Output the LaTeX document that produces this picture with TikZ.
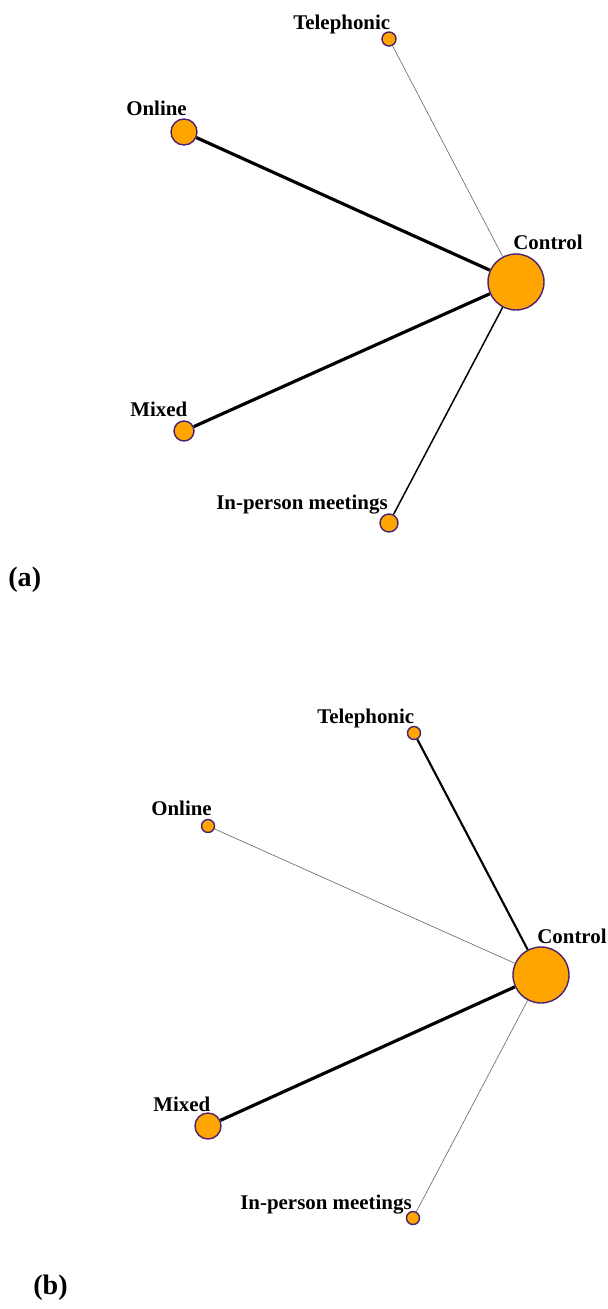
\documentclass[tikz,border=0pt]{standalone}
\usepackage{fontspec}
\setmainfont{Liberation Serif}
\usetikzlibrary{positioning}
\definecolor{armfill}{HTML}{FFA500}
\definecolor{armline}{HTML}{4A2272}

\begin{document}
\begin{tikzpicture}[x=0.02cm,y=-0.02cm,
    arm/.style={circle,draw=armline,fill=armfill,line width=0.8pt,inner sep=0pt},
    lbl/.style={font=\fontsize{11.9}{13}\selectfont\bfseries,inner sep=0pt,anchor=base west},
    panel/.style={font=\fontsize{16}{18}\selectfont\bfseries,inner sep=0pt,anchor=base west},
    w1/.style={draw=black!60,line width=0.35pt},
    w2/.style={draw=black,line width=0.85pt},
    w3/.style={draw=black,line width=1.2pt},
    w4/.style={draw=black,line width=1.8pt}]
  \useasboundingbox (0,0) rectangle (608,1309);

  %panel a
  \node[arm, minimum size=1.12cm] (ctrl_a) at (516,282) {};
  \node[arm, minimum size=0.28cm] (tel_a) at (389,39) {};
  \node[arm, minimum size=0.52cm] (onl_a) at (184,132) {};
  \node[arm, minimum size=0.40cm] (mix_a) at (184,431) {};
  \node[arm, minimum size=0.36cm] (inp_a) at (389,523) {};

  \node[lbl] (ctrl_a_lbl) at (513,249) {Control};
  \node[lbl] (tel_a_lbl) at (293,29) {Telephonic};
  \node[lbl] (onl_a_lbl) at (126,115) {Online};
  \node[lbl] (mix_a_lbl) at (130,416) {Mixed};
  \node[lbl] (inp_a_lbl) at (216,509) {In-person meetings};
  \node[panel] (tag_a) at (8,586) {(a)};

  \path
   (tel_a) edge[w1] (ctrl_a)
   (onl_a) edge[w4] (ctrl_a)
   (mix_a) edge[w4] (ctrl_a)
   (inp_a) edge[w2] (ctrl_a);

  %panel b
  \node[arm, minimum size=1.12cm] (ctrl_b) at (541,975) {};
  \node[arm, minimum size=0.26cm] (tel_b) at (414,733) {};
  \node[arm, minimum size=0.26cm] (onl_b) at (208,826) {};
  \node[arm, minimum size=0.52cm] (mix_b) at (208,1126) {};
  \node[arm, minimum size=0.26cm] (inp_b) at (413,1218) {};

  \node[lbl] (ctrl_b_lbl) at (537,943) {Control};
  \node[lbl] (tel_b_lbl) at (317,723) {Telephonic};
  \node[lbl] (onl_b_lbl) at (151,815) {Online};
  \node[lbl] (mix_b_lbl) at (153,1111) {Mixed};
  \node[lbl] (inp_b_lbl) at (240,1209) {In-person meetings};
  \node[panel] (tag_b) at (33,1294) {(b)};

  \path
   (tel_b) edge[w3] (ctrl_b)
   (onl_b) edge[w1] (ctrl_b)
   (mix_b) edge[w4] (ctrl_b)
   (inp_b) edge[w1] (ctrl_b);
\end{tikzpicture}
\end{document}
